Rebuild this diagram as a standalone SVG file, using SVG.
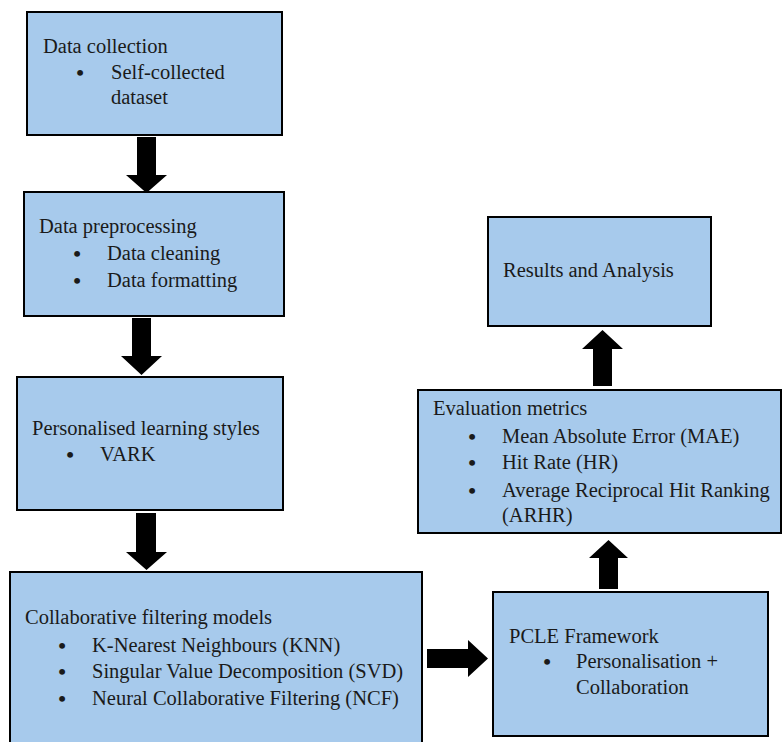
<svg xmlns="http://www.w3.org/2000/svg" width="782" height="742" viewBox="0 0 782 742">
<style>
.box{fill:#A7CAEC;stroke:#000;stroke-width:2}
.t text{font-family:'Liberation Serif','DejaVu Serif','Times New Roman',serif;font-size:20.5px;fill:#1a1a1a}
.t .b{text-anchor:middle;font-size:22px;font-weight:bold}
.arr{fill:#000}
</style>
<rect width="782" height="742" fill="#fff"/>
<g id="connectors">
<polygon class="arr" points="137,137 156,137 156,175 167,175 146.5,193 126,175 137,175"/>
<polygon class="arr" points="132,318 151,318 151,356 162,356 141.5,375 121,356 132,356"/>
<polygon class="arr" points="136,513 156,513 156,552 167,552 146.5,570 126,552 136,552"/>
<polygon class="arr" points="427,649 468,649 468,640 488,658.5 468,677 468,668 427,668"/>
<polygon class="arr" points="599,589 599,558 589,558 608.5,540 628,558 618,558 618,589"/>
<polygon class="arr" points="593,386 593,349 582,349 602.5,330 623,349 612,349 612,386"/>
</g>
<g id="data-collection" class="t">
<rect class="box" x="27" y="12" width="255" height="123"/>
<text x="43" y="53">Data collection</text>
<text class="b" x="80" y="80">•</text>
<text x="111" y="79">Self-collected</text>
<text x="111" y="104">dataset</text>
</g>
<g id="data-preprocessing" class="t">
<rect class="box" x="24" y="192" width="260" height="124"/>
<text x="39" y="233">Data preprocessing</text>
<text class="b" x="77" y="261">•</text>
<text x="107" y="260">Data cleaning</text>
<text class="b" x="77" y="288">•</text>
<text x="107" y="287">Data formatting</text>
</g>
<g id="learning-styles" class="t">
<rect class="box" x="17" y="377" width="266" height="133"/>
<text x="32" y="435">Personalised learning styles</text>
<text class="b" x="70" y="462">•</text>
<text x="100" y="461">VARK</text>
</g>
<g id="cf-models" class="t">
<rect class="box" x="10" y="572" width="412" height="175"/>
<text x="25" y="624">Collaborative filtering models</text>
<text class="b" x="62" y="653">•</text>
<text x="92" y="652">K-Nearest Neighbours (KNN)</text>
<text class="b" x="62" y="679">•</text>
<text x="92" y="678">Singular Value Decomposition (SVD)</text>
<text class="b" x="62" y="706">•</text>
<text x="92" y="705">Neural Collaborative Filtering (NCF)</text>
</g>
<g id="pcle" class="t">
<rect class="box" x="493" y="592" width="275" height="144"/>
<text x="509" y="643">PCLE Framework</text>
<text class="b" x="547" y="669">•</text>
<text x="576" y="668">Personalisation +</text>
<text x="576" y="694">Collaboration</text>
</g>
<g id="evaluation" class="t">
<rect class="box" x="418" y="390" width="363" height="143"/>
<text x="433" y="415">Evaluation metrics</text>
<text class="b" x="472" y="444">•</text>
<text x="502" y="443">Mean Absolute Error (MAE)</text>
<text class="b" x="472" y="470">•</text>
<text x="502" y="469">Hit Rate (HR)</text>
<text class="b" x="472" y="498">•</text>
<text x="502" y="497">Average Reciprocal Hit Ranking</text>
<text x="502" y="522">(ARHR)</text>
</g>
<g id="results" class="t">
<rect class="box" x="488" y="217" width="223" height="109"/>
<text x="503" y="277">Results and Analysis</text>
</g>
</svg>
